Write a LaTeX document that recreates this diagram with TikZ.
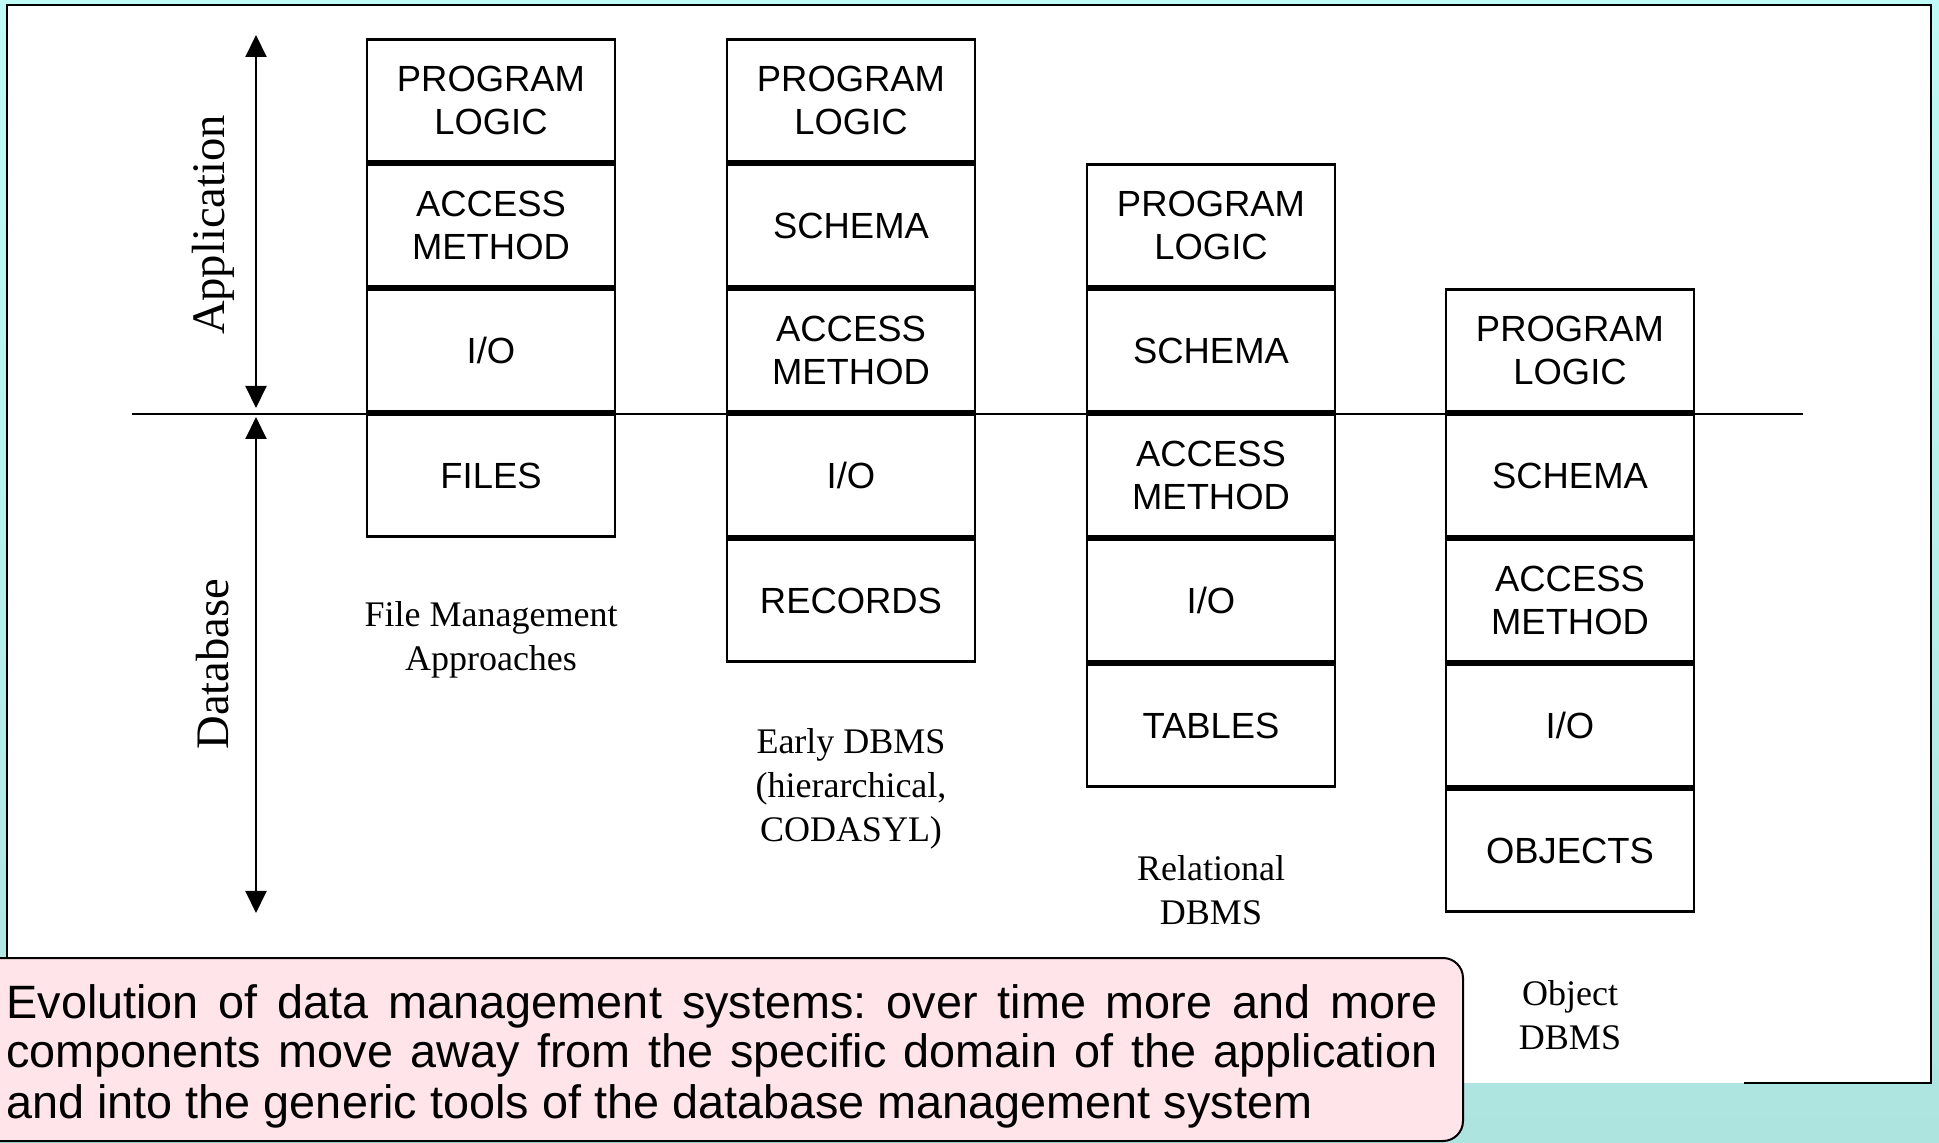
\documentclass[tikz,border=0pt]{standalone}
\usepackage{fontspec}
\setmainfont{Liberation Serif}
\setsansfont{Liberation Sans}
\usetikzlibrary{arrows.meta}
\definecolor{bgtop}{RGB}{192,250,246}
\definecolor{bgbot}{RGB}{174,228,224}
\definecolor{notepink}{RGB}{255,228,234}
\frenchspacing
\begin{document}
\begin{tikzpicture}[x=0.5pt,y=-0.5pt,
  stackbox/.style={draw, line width=1.2pt, fill=white, minimum width=124pt,
    minimum height=61pt, inner sep=0pt, align=center,
    font=\sffamily\fontsize{18.2}{21.5}\selectfont},
  caption/.style={align=center, inner sep=0pt,
    font=\rmfamily\fontsize{18}{22}\selectfont},
  axislabel/.style={rotate=90, inner sep=0pt,
    font=\rmfamily\fontsize{23.3}{28}\selectfont},
  axisarrow/.style={line width=1pt,
    {Triangle[width=10.5pt,length=11pt]}-{Triangle[width=10.5pt,length=11pt]}},
  noteline/.style={anchor=base west, inner sep=0pt,
    font=\sffamily\fontsize{23.4}{25}\selectfont}]
\useasboundingbox (0,0) rectangle (1939,1143);
\clip (0,0) rectangle (1939,1143);

% slide background and white panel
\shade[top color=bgtop, bottom color=bgbot] (0,0) rectangle (1939,1143);
\fill[white] (7,5) rectangle (1931,1083);
\draw[line width=1.2pt] (1744,1083) -- (1931,1083) -- (1931,5) -- (7,5) -- (7,958);

% application / database axis
\coordinate (apptop) at (256,35);
\coordinate (appbot) at (256,408);
\coordinate (dbtop) at (256,417);
\coordinate (dbbot) at (256,913);
\draw[axisarrow] (apptop) -- (appbot);
\draw[axisarrow] (dbtop) -- (dbbot);
\node[axislabel] (applbl) at (213,225) {Application};
\node[axislabel] (dblbl) at (213,664) {Database};

% boundary between application and database
\coordinate (splitl) at (132,414);
\coordinate (splitr) at (1803,414);
\draw[line width=1pt] (splitl) -- (splitr);

% file management approaches
\node[stackbox] (fa) at (491,100.5) {PROGRAM\\LOGIC};
\node[stackbox] (fb) at (491,225.5) {ACCESS\\METHOD};
\node[stackbox] (fc) at (491,350.5) {I/O};
\node[stackbox] (fd) at (491,475.5) {FILES};
\node[caption] (fcap) at (491,640) {File Management\\Approaches};

% early DBMS
\node[stackbox] (ea) at (851,100.5) {PROGRAM\\LOGIC};
\node[stackbox] (eb) at (851,225.5) {SCHEMA};
\node[stackbox] (ec) at (851,350.5) {ACCESS\\METHOD};
\node[stackbox] (ed) at (851,475.5) {I/O};
\node[stackbox] (ee) at (851,600.5) {RECORDS};
\node[caption] (ecap) at (851,789) {Early DBMS\\(hierarchical,\\CODASYL)};

% relational DBMS
\node[stackbox] (ra) at (1211,225.5) {PROGRAM\\LOGIC};
\node[stackbox] (rb) at (1211,350.5) {SCHEMA};
\node[stackbox] (rc) at (1211,475.5) {ACCESS\\METHOD};
\node[stackbox] (rd) at (1211,600.5) {I/O};
\node[stackbox] (re) at (1211,725.5) {TABLES};
\node[caption] (rcap) at (1211,890) {Relational\\DBMS};

% object DBMS
\node[stackbox] (oa) at (1570,350.5) {PROGRAM\\LOGIC};
\node[stackbox] (ob) at (1570,475.5) {SCHEMA};
\node[stackbox] (oc) at (1570,600.5) {ACCESS\\METHOD};
\node[stackbox] (od) at (1570,725.5) {I/O};
\node[stackbox] (oe) at (1570,850.5) {OBJECTS};
\node[caption] (ocap) at (1570,1015) {Object\\DBMS};

% explanatory note
\draw[fill=notepink, line width=1pt, rounded corners=10pt] (-30,958) rectangle (1463,1141);
\node[noteline] (note1) at (6,1018) {\makebox[715.5pt][s]{Evolution of data management systems: over time more and more}};
\node[noteline] (note2) at (6,1067) {\makebox[715.5pt][s]{components move away from the specific domain of the application}};
\node[noteline] (note3) at (6,1118) {and into the generic tools of the database management system};
\end{tikzpicture}
\end{document}
